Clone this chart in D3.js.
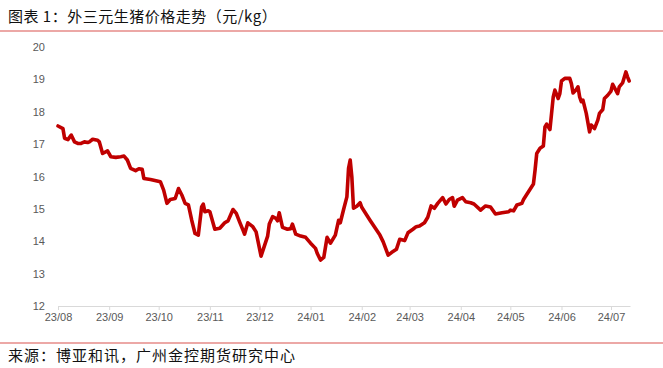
<!DOCTYPE html>
<html>
<head>
<meta charset="utf-8">
<script src="https://cdn.jsdelivr.net/npm/d3@7"></script>
<style>
  body { margin: 0; background: #fff; }
  svg { display: block; }
</style>
</head>
<body>
<svg id="chart"></svg>
<script>
const width = 663, height = 368

// 外三元生猪价格 (元/kg)
const dates = [
  "2023-08-01","2023-08-04","2023-08-05","2023-08-07","2023-08-09","2023-08-11","2023-08-13","2023-08-15",
  "2023-08-17","2023-08-19","2023-08-20","2023-08-22","2023-08-25","2023-08-26","2023-08-28","2023-08-31",
  "2023-09-02","2023-09-05","2023-09-08","2023-09-10","2023-09-12","2023-09-14","2023-09-17","2023-09-19",
  "2023-09-21","2023-09-22","2023-09-26","2023-10-02","2023-10-04","2023-10-06","2023-10-08","2023-10-11",
  "2023-10-13","2023-10-15","2023-10-17","2023-10-19","2023-10-21","2023-10-23","2023-10-25","2023-10-27",
  "2023-10-28","2023-10-29","2023-10-31","2023-11-01","2023-11-04","2023-11-07","2023-11-10","2023-11-12",
  "2023-11-15","2023-11-17","2023-11-19","2023-11-21","2023-11-22","2023-11-24","2023-11-27","2023-11-29",
  "2023-12-02","2023-12-04","2023-12-06","2023-12-07","2023-12-09","2023-12-11","2023-12-12","2023-12-13",
  "2023-12-15","2023-12-18","2023-12-20","2023-12-21","2023-12-23","2023-12-26","2023-12-29","2024-01-01",
  "2024-01-04","2024-01-05","2024-01-07","2024-01-09","2024-01-11","2024-01-13","2024-01-16","2024-01-18",
  "2024-01-19","2024-01-21","2024-01-23","2024-01-24","2024-01-25","2024-01-26","2024-01-27","2024-01-29",
  "2024-01-31","2024-02-01","2024-02-06","2024-02-12","2024-02-14","2024-02-17","2024-02-19","2024-02-22",
  "2024-02-24","2024-02-27","2024-02-29","2024-03-03","2024-03-05","2024-03-07","2024-03-10","2024-03-12",
  "2024-03-14","2024-03-16","2024-03-18","2024-03-21","2024-03-23","2024-03-25","2024-03-27","2024-03-28",
  "2024-03-30","2024-04-02","2024-04-04","2024-04-07","2024-04-09","2024-04-13","2024-04-16","2024-04-19",
  "2024-04-22","2024-04-26","2024-04-30","2024-05-01","2024-05-03","2024-05-05","2024-05-08","2024-05-09",
  "2024-05-12","2024-05-15","2024-05-16","2024-05-17","2024-05-19","2024-05-21","2024-05-22","2024-05-23",
  "2024-05-25","2024-05-27","2024-05-28","2024-05-30","2024-05-31","2024-06-01","2024-06-03","2024-06-06",
  "2024-06-07","2024-06-08","2024-06-10","2024-06-11","2024-06-12","2024-06-13","2024-06-14","2024-06-16",
  "2024-06-18","2024-06-19","2024-06-21","2024-06-23","2024-06-24","2024-06-26","2024-06-27","2024-06-29",
  "2024-07-01","2024-07-02","2024-07-05","2024-07-06","2024-07-08","2024-07-10","2024-07-11","2024-07-12"
]
const prices = [
  17.56,17.48,17.18,17.14,17.28,17.07,17.02,17.02,
  17.07,17.05,17.07,17.15,17.12,17.07,16.71,16.79,
  16.61,16.59,16.61,16.63,16.51,16.25,16.18,16.24,
  16.22,15.94,15.91,15.84,15.58,15.17,15.29,15.32,
  15.63,15.43,15.17,15.12,14.65,14.24,14.19,15.06,
  15.15,14.91,14.94,14.91,14.37,14.40,14.57,14.63,
  14.98,14.86,14.60,14.35,14.22,14.57,14.45,14.29,
  13.54,13.85,14.16,14.53,14.76,14.71,14.63,14.88,
  14.43,14.37,14.39,14.53,14.22,14.16,14.12,13.94,
  13.78,13.63,13.42,13.50,14.12,13.94,14.19,14.65,
  14.57,14.98,15.37,16.25,16.51,15.99,15.02,15.08,
  15.19,15.05,14.65,14.19,13.98,13.57,13.65,13.75,
  14.06,14.02,14.26,14.37,14.45,14.47,14.57,14.74,
  15.09,15.02,15.17,15.35,15.15,15.29,15.35,15.08,
  15.27,15.35,15.22,15.19,15.15,14.96,15.09,15.06,
  14.84,14.88,14.91,14.96,14.94,15.12,15.17,15.29,
  15.53,15.77,16.20,16.71,16.87,16.94,17.53,17.62,
  17.45,18.46,18.67,18.41,18.56,18.95,19.03,19.03,
  18.87,18.58,18.69,18.77,18.46,18.31,18.36,17.95,
  17.38,17.59,17.48,17.74,17.95,18.07,18.41,18.51,
  18.64,18.85,18.56,18.77,18.89,19.23,19.08,18.95
]
const yTicks = [12, 13, 14, 15, 16, 17, 18, 19, 20]
const xTicks = ["2023-08-01","2023-09-01","2023-10-01","2023-11-01","2023-12-01","2024-01-01",
                "2024-02-01","2024-03-01","2024-04-01","2024-05-01","2024-06-01","2024-07-01"]

const titleText = "图表 1：外三元生猪价格走势（元/kg）"
const sourceText = "来源：博亚和讯，广州金控期货研究中心"

const parse = d3.timeParse("%Y-%m-%d")
const data = dates.map((d, i) => ({ date: parse(d), value: prices[i] }))

const svg = d3.select("#chart")
    .attr("width", width)
    .attr("height", height)

const x = d3.scaleTime()
    .domain([parse("2023-08-01"), new Date(2024, 6, 12, 12)])
    .range([58, 630])

const y = d3.scaleLinear()
    .domain([12, 20])
    .range([306, 47])

// title + rules
svg.append("text")
    .attr("x", 8)
    .attr("y", 22)
    .attr("font-family", "'Noto Sans CJK SC', sans-serif")
    .attr("font-size", 15)
    .attr("letter-spacing", 0.5)
    .attr("fill", "#111")
    .text(titleText)

svg.append("line")
    .attr("x1", 0).attr("x2", width)
    .attr("y1", 31).attr("y2", 31)
    .attr("stroke", "#d9534f")
    .attr("stroke-width", 1.2)

svg.append("line")
    .attr("x1", 0).attr("x2", width)
    .attr("y1", 343).attr("y2", 343)
    .attr("stroke", "#d9534f")
    .attr("stroke-width", 1.2)

svg.append("text")
    .attr("x", 8)
    .attr("y", 361)
    .attr("font-family", "'Noto Sans CJK SC', sans-serif")
    .attr("font-size", 15)
    .attr("letter-spacing", 1)
    .attr("fill", "#111")
    .text(sourceText)

// y axis (labels only)
let yAxis = svg.append("g")
    .attr("transform", "translate(45,0)")
    .call(d3.axisLeft(y).tickValues(yTicks).tickSize(0).tickPadding(0))
yAxis.select(".domain").remove()
yAxis.selectAll("text")
    .attr("font-family", "'Liberation Sans', Arial, sans-serif")
    .attr("font-size", 11)
    .attr("fill", "#595959")

// x axis
let xAxis = svg.append("g")
    .attr("transform", "translate(0,306)")
    .call(d3.axisBottom(x)
        .tickValues(xTicks.map(parse))
        .tickFormat(d3.timeFormat("%y/%m"))
        .tickSizeInner(4)
        .tickSizeOuter(0)
        .tickPadding(3))
xAxis.select(".domain").attr("stroke", "#d9d9d9")
xAxis.selectAll(".tick line").attr("stroke", "#d9d9d9")
xAxis.selectAll("text")
    .attr("font-family", "'Liberation Sans', Arial, sans-serif")
    .attr("font-size", 11)
    .attr("fill", "#595959")

// price line
let line = d3.line()
    .x(d => x(d.date))
    .y(d => y(d.value))

svg.append("path")
    .datum(data)
    .attr("fill", "none")
    .attr("stroke", "#c00000")
    .attr("stroke-width", 3.6)
    .attr("stroke-linejoin", "round")
    .attr("stroke-linecap", "round")
    .attr("d", line)
</script>
</body>
</html>
